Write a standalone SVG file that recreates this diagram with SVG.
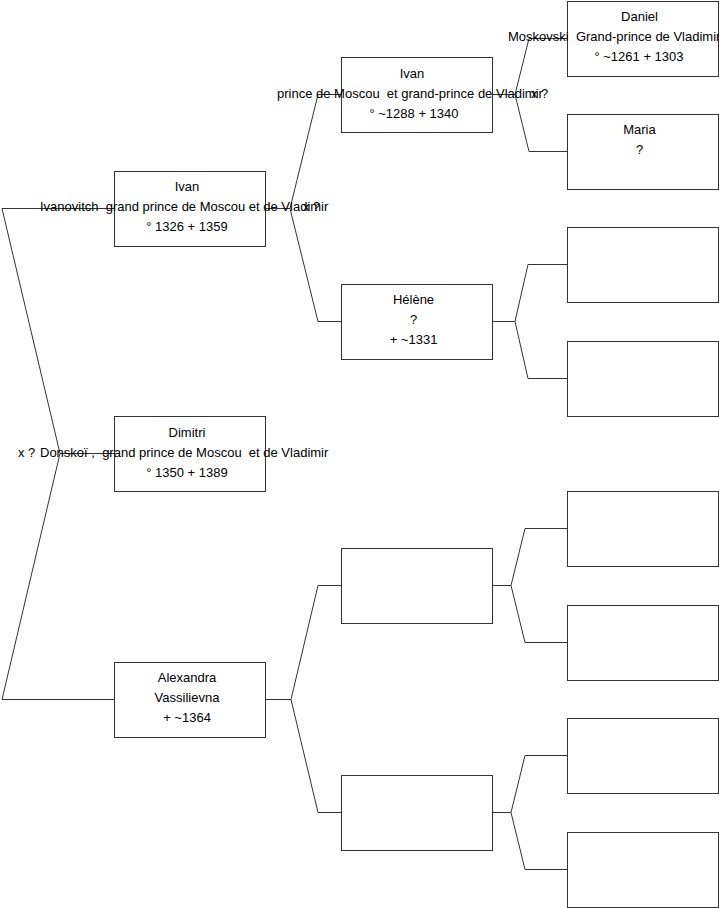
<svg xmlns="http://www.w3.org/2000/svg" width="719" height="908" viewBox="0 0 719 908">
<style>
.box{fill:#fff;stroke:#333;stroke-width:1}
.con{fill:none;stroke:#333;stroke-width:1}
text{font-family:"Liberation Sans",Arial,sans-serif;font-size:13px;fill:#000;white-space:pre}
.c{text-anchor:middle}
</style>
<rect width="719" height="908" fill="#fff"/>
<g id="connectors">
<polyline class="con" points="114,453.5 60,453.5 2,208.5 114,208.5"/>
<polyline class="con" points="60,453.5 2,699.5 114,699.5"/>
<polyline class="con" points="265,208.5 290,208.5 318,94.5 341,94.5"/>
<polyline class="con" points="290,208.5 318,321.5 341,321.5"/>
<polyline class="con" points="265,699.5 291,699.5 318,585.5 341,585.5"/>
<polyline class="con" points="291,699.5 318,812.5 341,812.5"/>
<polyline class="con" points="492,94.5 515,94.5 529,38.5 567,38.5"/>
<polyline class="con" points="515,94.5 529,151.5 567,151.5"/>
<polyline class="con" points="492,321.5 515,321.5 528,264.5 567,264.5"/>
<polyline class="con" points="515,321.5 528,378.5 567,378.5"/>
<polyline class="con" points="492,585.5 511,585.5 525,528.5 567,528.5"/>
<polyline class="con" points="511,585.5 525,642.5 567,642.5"/>
<polyline class="con" points="492,812.5 511,812.5 525,755.5 567,755.5"/>
<polyline class="con" points="511,812.5 525,869.5 567,869.5"/>
</g>
<g id="n-ivan1">
<rect class="box" x="114.5" y="171.5" width="151" height="75"/>
<text class="c" x="187" y="191">Ivan</text>
<text x="40" y="211">Ivanovitch  grand prince de Moscou et de Vladimir</text>
<text class="c" x="187" y="231">° 1326 + 1359</text>
<text x="303" y="211">x ?</text>
</g>
<g id="n-dimitri">
<rect class="box" x="114.5" y="416.5" width="151" height="75"/>
<text class="c" x="187" y="436.5">Dimitri</text>
<text x="40" y="456.5">Donskoï ,  grand prince de Moscou  et de Vladimir</text>
<text class="c" x="187" y="476.5">° 1350 + 1389</text>
<text x="18" y="456.5">x ?</text>
</g>
<g id="n-alexandra">
<rect class="box" x="114.5" y="662.5" width="151" height="75"/>
<text class="c" x="187" y="682">Alexandra</text>
<text class="c" x="187" y="702">Vassilievna</text>
<text class="c" x="187" y="722">+ ~1364</text>
</g>
<g id="n-ivan2">
<rect class="box" x="341.5" y="57.5" width="151" height="75"/>
<text class="c" x="412" y="77.5">Ivan</text>
<text x="277" y="97.5">prince de Moscou  et grand-prince de Vladimir</text>
<text class="c" x="414" y="117.5">° ~1288 + 1340</text>
<text x="531" y="97.5">x ?</text>
</g>
<g id="n-helene">
<rect class="box" x="341.5" y="284.5" width="151" height="75"/>
<text class="c" x="413.5" y="304">Hélène</text>
<text class="c" x="413.5" y="324">?</text>
<text class="c" x="413.5" y="344">+ ~1331</text>
</g>
<g id="n-empty2a">
<rect class="box" x="341.5" y="548.5" width="151" height="75"/>
</g>
<g id="n-empty2b">
<rect class="box" x="341.5" y="775.5" width="151" height="75"/>
</g>
<g id="n-daniel">
<rect class="box" x="567.5" y="1.5" width="151" height="75"/>
<text class="c" x="639.5" y="20.5">Daniel</text>
<text x="508" y="40.5">Moskovski  Grand-prince de Vladimir</text>
<text class="c" x="639" y="60.5">° ~1261 + 1303</text>
</g>
<g id="n-maria">
<rect class="box" x="567.5" y="114.5" width="151" height="75"/>
<text class="c" x="639.5" y="133.5">Maria</text>
<text class="c" x="639.5" y="153.5">?</text>
</g>
<g id="n-e3a"><rect class="box" x="567.5" y="227.5" width="151" height="75"/></g>
<g id="n-e3b"><rect class="box" x="567.5" y="341.5" width="151" height="75"/></g>
<g id="n-e3c"><rect class="box" x="567.5" y="491.5" width="151" height="75"/></g>
<g id="n-e3d"><rect class="box" x="567.5" y="605.5" width="151" height="75"/></g>
<g id="n-e3e"><rect class="box" x="567.5" y="718.5" width="151" height="75"/></g>
<g id="n-e3f"><rect class="box" x="567.5" y="832.5" width="151" height="75"/></g>
</svg>
